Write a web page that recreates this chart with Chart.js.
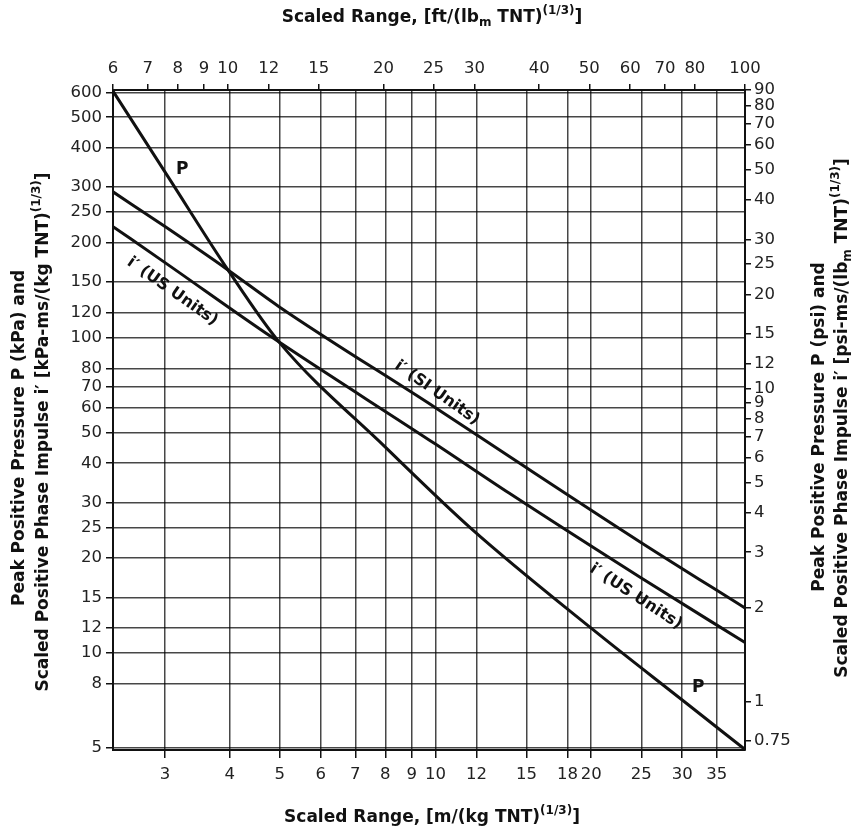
<!DOCTYPE html>
<html>
<head>
<meta charset="utf-8">
<script src="https://cdn.jsdelivr.net/npm/chart.js@4.4.0/dist/chart.umd.min.js"></script>
<style>
  html, body { margin: 0; padding: 0; background: #fff; }
  #wrap { width: 855px; height: 833px; }
</style>
</head>
<body>
<div id="wrap"><canvas id="chart" width="855" height="833"></canvas></div>
<script>
// Peak positive pressure P, kPa, against scaled range m/(kg TNT)^(1/3)
const pRange = [2.38, 3.04, 3.97, 5.0, 8, 11.8, 20, 30, 39.67];
const pPressure = [605, 324, 164, 96.3, 45, 24.6, 12.0, 7.1, 4.95];

// Scaled positive phase impulse i', SI units
const siRange = [2.38, 3.0, 3.97, 5.0, 10, 13.9, 25, 39.67];
const siImpulse = [290, 225, 164, 125, 60, 42, 22.4, 13.9];

// Scaled positive phase impulse i', US units (read on the left scale)
const usRange = [2.38, 3.0, 4.8, 10, 13.9, 25, 39.67];
const usImpulse = [225, 173, 101, 46, 32.1, 17.3, 10.8];

// tick labels
const bottomTicks = [3, 4, 5, 6, 7, 8, 9, 10, 12, 15, 18, 20, 25, 30, 35];
const topTicks = [6, 7, 8, 9, 10, 12, 15, 20, 25, 30, 40, 50, 60, 70, 80, 100];
const leftTicks = [5, 8, 10, 12, 15, 20, 25, 30, 40, 50, 60, 70, 80, 100, 120, 150, 200, 250, 300, 400, 500, 600];
const rightTicks = [0.75, 1, 2, 3, 4, 5, 6, 7, 8, 9, 10, 12, 15, 20, 25, 30, 40, 50, 60, 70, 80, 90];

const tickFont = { family: "'DejaVu Sans', sans-serif", size: 16.5 };
const titleFamily = "'DejaVu Sans', sans-serif";

function toPoints(xs, ys) {
    return xs.map((x, i) => ({ x: x, y: ys[i] }));
}

// draws one line of text with sub/superscripts, centred on (x, y)
function drawRich(ctx, parts, x, y, angle, size) {
    const base = `bold ${size}px ${titleFamily}`;
    const small = `bold ${Math.round(size * 0.7)}px ${titleFamily}`;
    ctx.save();
    ctx.translate(x, y);
    ctx.rotate(angle);
    ctx.textBaseline = 'middle';
    ctx.textAlign = 'left';
    ctx.fillStyle = '#111';
    let total = 0;
    const widths = parts.map(p => {
        ctx.font = p.s ? small : base;
        const w = ctx.measureText(p.t).width;
        total += w;
        return w;
    });
    let cx = -total / 2;
    parts.forEach((p, i) => {
        ctx.font = p.s ? small : base;
        const dy = p.s === 'sup' ? -size * 0.42 : (p.s === 'sub' ? size * 0.3 : 0);
        ctx.fillText(p.t, cx, dy);
        cx += widths[i];
    });
    ctx.restore();
}

// curve labels, placed in data units of the bottom/left scales
const curveLabels = [
    { text: 'P', x: 3.24, y: 340, angle: 0, size: 17 },
    { text: 'P', x: 32.2, y: 7.8, angle: 0, size: 17 },
    { text: 'i\u2032 (US Units)', x: 3.1, y: 140, angle: 35, size: 16 },
    { text: 'i\u2032 (SI Units)', x: 10.07, y: 66.8, angle: 35, size: 16 },
    { text: 'i\u2032 (US Units)', x: 24.4, y: 15.1, angle: 33, size: 16 }
];

const textPlugin = {
    id: 'texts',
    afterDraw(chart) {
        const ctx = chart.ctx;
        const xs = chart.scales.x, ys = chart.scales.y;
        curveLabels.forEach(l => {
            drawRich(ctx, [{ t: l.text }], xs.getPixelForValue(l.x), ys.getPixelForValue(l.y),
                l.angle * Math.PI / 180, l.size);
        });

        drawRich(ctx, [{ t: 'Scaled Range, [ft/(lb' }, { t: 'm', s: 'sub' }, { t: ' TNT)' },
            { t: '(1/3)', s: 'sup' }, { t: ']' }], 432, 18, 0, 17);
        drawRich(ctx, [{ t: 'Scaled Range, [m/(kg TNT)' }, { t: '(1/3)', s: 'sup' }, { t: ']' }],
            432, 818, 0, 17);

        drawRich(ctx, [{ t: 'Peak Positive Pressure P (kPa) and' }], 20, 438, -Math.PI / 2, 17);
        drawRich(ctx, [{ t: 'Scaled Positive Phase Impulse i\u2032 [kPa-ms/(kg TNT)' },
            { t: '(1/3)', s: 'sup' }, { t: ']' }], 44, 432, -Math.PI / 2, 17);

        drawRich(ctx, [{ t: 'Peak Positive Pressure P (psi) and' }], 820, 427, -Math.PI / 2, 17);
        drawRich(ctx, [{ t: 'Scaled Positive Phase Impulse i\u2032 [psi-ms/(lb' }, { t: 'm', s: 'sub' },
            { t: ' TNT)' }, { t: '(1/3)', s: 'sup' }, { t: ']' }], 843, 418, -Math.PI / 2, 17);
    }
};

function fixedTicks(list) {
    return function(scale) {
        scale.ticks = list.map(v => ({ value: v }));
    };
}

const curveStyle = {
    borderColor: '#111',
    borderWidth: 3,
    pointRadius: 0,
    showLine: true,
    fill: false,
    cubicInterpolationMode: 'monotone'
};

const gridStyle = { color: 'rgba(0,0,0,0.72)', lineWidth: 1.5, tickColor: '#111' };
const borderStyle = { display: true, color: '#111', width: 2 };

new Chart(document.getElementById('chart'), {
    type: 'scatter',
    data: {
        datasets: [
            Object.assign({ label: 'P', data: toPoints(pRange, pPressure) }, curveStyle),
            Object.assign({ label: "i' (SI Units)", data: toPoints(siRange, siImpulse) }, curveStyle),
            Object.assign({ label: "i' (US Units)", data: toPoints(usRange, usImpulse) }, curveStyle)
        ]
    },
    options: {
        responsive: false,
        animation: false,
        layout: { padding: 0 },
        plugins: {
            legend: { display: false },
            tooltip: { enabled: false },
            title: { display: false }
        },
        scales: {
            x: {
                type: 'logarithmic',
                position: 'bottom',
                min: 2.38,
                max: 39.67,
                afterBuildTicks: fixedTicks(bottomTicks),
                afterFit: s => { s.height = 83; },
                ticks: { autoSkip: false, maxRotation: 0, font: tickFont, color: '#222', padding: 7,
                    callback: v => String(v) },
                grid: Object.assign({ drawOnChartArea: true, drawTicks: true, tickLength: 8 }, gridStyle),
                border: borderStyle
            },
            xTop: {
                type: 'logarithmic',
                position: 'top',
                min: 6,
                max: 100,
                afterBuildTicks: fixedTicks(topTicks),
                afterFit: s => { s.height = 90; },
                ticks: { autoSkip: false, maxRotation: 0, font: tickFont, color: '#222', padding: 5,
                    callback: v => String(v) },
                grid: Object.assign({ drawOnChartArea: false, drawTicks: true, tickLength: 6 }, gridStyle),
                border: borderStyle
            },
            y: {
                type: 'logarithmic',
                position: 'left',
                min: 4.93,
                max: 610,
                afterBuildTicks: fixedTicks(leftTicks),
                afterFit: s => { s.width = 113; },
                ticks: { autoSkip: false, font: tickFont, color: '#222', padding: 4,
                    callback: v => String(v) },
                grid: Object.assign({ drawOnChartArea: true, drawTicks: true, tickLength: 7 }, gridStyle),
                border: borderStyle
            },
            yRight: {
                type: 'logarithmic',
                position: 'right',
                min: 0.7274,
                max: 90,
                afterBuildTicks: fixedTicks(rightTicks),
                afterFit: s => { s.width = 110; },
                ticks: { autoSkip: false, font: tickFont, color: '#222', padding: 3,
                    callback: v => String(v) },
                grid: Object.assign({ drawOnChartArea: false, drawTicks: true, tickLength: 6 }, gridStyle),
                border: borderStyle
            }
        }
    },
    plugins: [textPlugin]
});
</script>
</body>
</html>
